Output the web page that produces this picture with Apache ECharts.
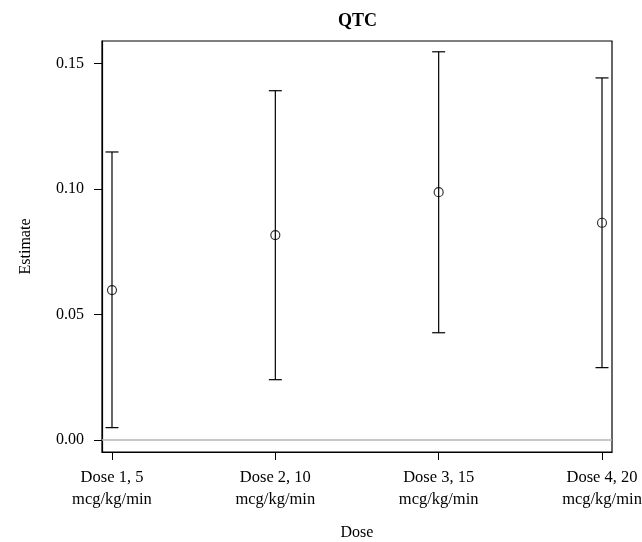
<!DOCTYPE html>
<html>
<head>
<meta charset="utf-8">
<script src="https://cdn.jsdelivr.net/npm/echarts@6/dist/echarts.min.js"></script>
<style>
  html, body { margin: 0; padding: 0; background: #fff; }
  #chart { width: 642px; height: 542px; }
</style>
</head>
<body>
<div id="chart"></div>
<script>
// Dose groups and the estimated effect with its confidence limits
const doseLabels = ['Dose 1, 5\nmcg/kg/min', 'Dose 2, 10\nmcg/kg/min', 'Dose 3, 15\nmcg/kg/min', 'Dose 4, 20\nmcg/kg/min'];
const estimate = [0.0597, 0.0816, 0.0987, 0.0865];
const lowerCI = [0.0049, 0.0240, 0.0427, 0.0288];
const upperCI = [0.1147, 0.1391, 0.1546, 0.1442];
const yTicks = [0, 0.05, 0.10, 0.15];

const FONT = '"Liberation Serif", "DejaVu Serif", serif';
const chart = echarts.init(document.getElementById('chart'), null, { renderer: 'canvas' });

const barData = doseLabels.map((_, i) => [i, lowerCI[i], upperCI[i]]);
const pointData = doseLabels.map((_, i) => [i, estimate[i]]);
const xIdx = doseLabels.map((_, i) => i);

chart.setOption({
  backgroundColor: '#fff',
  animation: false,
  title: {
    text: 'QTC',
    left: 333,
    top: 7,
    textStyle: { fontFamily: FONT, fontSize: 18, fontWeight: 'bold', color: '#000' }
  },
  grid: {
    left: 102, right: 30, top: 41, bottom: 90,
    outerBoundsMode: 'none',
    containLabel: false,
    show: true, borderColor: '#000', borderWidth: 1.2, backgroundColor: '#fff'
  },
  xAxis: {
    type: 'value',
    min: -0.0612, max: 3.0612,
    name: 'Dose',
    nameLocation: 'middle',
    nameGap: 73,
    nameTextStyle: { fontFamily: FONT, fontSize: 16, color: '#000' },
    axisLine: { show: true, onZero: false, lineStyle: { color: '#000', width: 1.2 } },
    axisTick: { show: true, customValues: xIdx, length: 8, lineStyle: { color: '#000' } },
    axisLabel: {
      customValues: xIdx,
      margin: 15,
      fontFamily: FONT, fontSize: 16.5, color: '#000', lineHeight: 22,
      formatter: v => doseLabels[Math.round(v)]
    },
    splitLine: { show: false }
  },
  yAxis: {
    type: 'value',
    min: -0.0048, max: 0.1589,
    name: 'Estimate',
    nameLocation: 'middle',
    nameGap: 68,
    nameTextStyle: { fontFamily: FONT, fontSize: 16, color: '#000' },
    axisLine: { show: true, onZero: false, lineStyle: { color: '#000', width: 1.2 } },
    axisTick: { show: true, customValues: yTicks, length: 8, lineStyle: { color: '#000' } },
    axisLabel: {
      customValues: yTicks,
      margin: 18,
      fontFamily: FONT, fontSize: 16, color: '#000',
      formatter: v => v.toFixed(2)
    },
    splitLine: { show: false }
  },
  series: [
    {
      // confidence interval whiskers with end caps
      type: 'custom',
      data: barData,
      encode: { x: 0, y: [1, 2] },
      renderItem: (params, api) => {
        const x = api.value(0);
        const lo = api.coord([x, api.value(1)]);
        const hi = api.coord([x, api.value(2)]);
        const half = 6.5;
        const style = { stroke: '#000', lineWidth: 1.2 };
        return {
          type: 'group',
          children: [
            { type: 'line', shape: { x1: lo[0], y1: lo[1], x2: hi[0], y2: hi[1] }, style },
            { type: 'line', shape: { x1: hi[0] - half, y1: hi[1], x2: hi[0] + half, y2: hi[1] }, style },
            { type: 'line', shape: { x1: lo[0] - half, y1: lo[1], x2: lo[0] + half, y2: lo[1] }, style }
          ]
        };
      },
      markLine: {
        silent: true,
        symbol: 'none',
        label: { show: false },
        lineStyle: { color: '#b4b4b4', width: 1.5, type: 'solid' },
        data: [{ yAxis: 0 }]
      },
      z: 2
    },
    {
      // point estimates
      type: 'scatter',
      data: pointData,
      symbol: 'circle',
      symbolSize: 9,
      itemStyle: { color: 'rgba(0,0,0,0)', borderColor: '#000', borderWidth: 1.2 },
      z: 3
    }
  ]
});
</script>
</body>
</html>
